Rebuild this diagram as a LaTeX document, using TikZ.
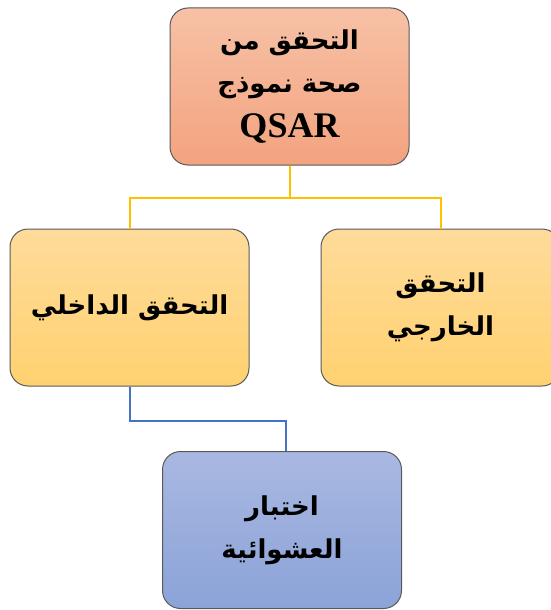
\documentclass[tikz,border=0pt]{standalone}
\usepackage{fontspec}
\newfontfamily\arabicfont[Script=Arabic]{DejaVu Sans}
\newfontfamily\qsarfont{Liberation Serif}
\TeXXeTstate=1
\usepackage{tikz}
\usetikzlibrary{positioning, calc}

\definecolor{salmonT}{HTML}{F7C1A6}
\definecolor{salmonB}{HTML}{F3A37F}
\definecolor{goldT}{HTML}{FEDB9A}
\definecolor{goldB}{HTML}{FFD170}
\definecolor{blueT}{HTML}{A9B8E1}
\definecolor{blueB}{HTML}{8BA3D8}
\definecolor{goldline}{HTML}{FFC000}
\definecolor{blueline}{HTML}{4472C4}

\begin{document}
\begin{tikzpicture}[x=1pt, y=1pt,
    box/.style={draw=black!65, line width=1pt, rounded corners=18pt,
      minimum width=239pt, minimum height=157pt, align=center,
      font=\arabicfont\bfseries\fontsize{26}{43}\selectfont},
    yline/.style={draw=goldline, line width=2pt},
    bline/.style={draw=blueline, line width=2pt}]
        \useasboundingbox (0,0) rectangle (551,-610);
        % boxes
        \node[box, top color=salmonT, bottom color=salmonB] (root) at (289.5,-86.5)
          {\beginR التحقق من\endR\\ \beginR صحة نموذج\endR\\[2pt]
           {\qsarfont\bfseries\fontsize{36}{40}\selectfont QSAR}};
        \node[box, top color=goldT, bottom color=goldB] (internal) at (129.5,-307.5)
          {\beginR التحقق الداخلي\endR};
        \node[box, top color=goldT, bottom color=goldB] (external) at (440.5,-307.5)
          {\beginR التحقق\endR\\ \beginR الخارجي\endR};
        \node[box, top color=blueT, bottom color=blueB] (random) at (282,-530)
          {\beginR اختبار\endR\\ \beginR العشوائية\endR};
        % connectors
        \draw[yline] (root.south) -- ++(0,-32) coordinate (fork);
        \draw[yline] (internal.north) |- (fork) -| (external.north);
        \draw[bline] (internal.south) -- ++(0,-34) coordinate (bend)
          -| ([xshift=4pt]random.north);
\end{tikzpicture}
\end{document}
